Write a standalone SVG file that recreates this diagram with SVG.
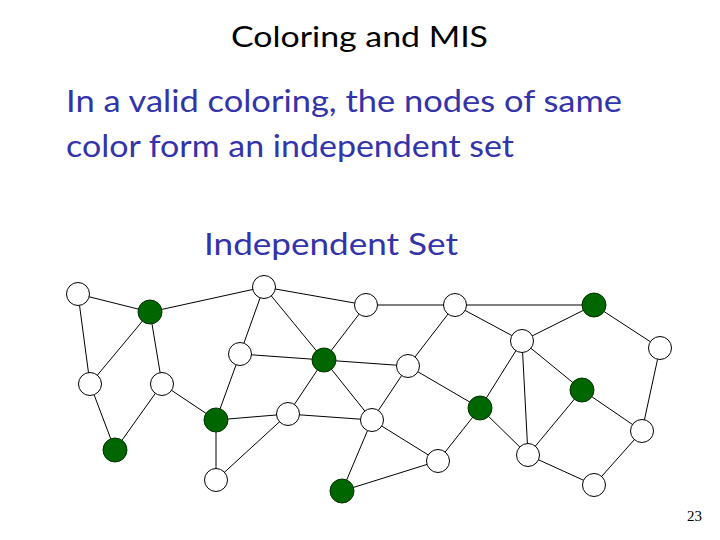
<svg xmlns="http://www.w3.org/2000/svg" width="720" height="540" viewBox="0 0 720 540">
<style>
.t{font-family:"Comic Sans MS","Lato","DejaVu Sans",sans-serif;}
.title{font-size:28px;fill:#000;}
.body{font-size:30px;fill:#3333aa;}
.e{stroke:#000;stroke-width:1;fill:none;}
.w{fill:#fff;stroke:#000;stroke-width:1;}
.g{fill:#006600;stroke:#003300;stroke-width:1;}
.pn{font-family:"Liberation Serif",serif;font-size:15px;fill:#000;}
</style>
<rect width="720" height="540" fill="#fff"/>
<text class="t title" x="231" y="47" textLength="257" lengthAdjust="spacingAndGlyphs">Coloring and MIS</text>
<text class="t body" x="66" y="112" textLength="556" lengthAdjust="spacingAndGlyphs">In a valid coloring, the nodes of same</text>
<text class="t body" x="66" y="157" textLength="448" lengthAdjust="spacingAndGlyphs">color form an independent set</text>
<text class="t body" x="204" y="255" textLength="254" lengthAdjust="spacingAndGlyphs">Independent Set</text>
<g id="connectors" class="e">
<line x1="78" y1="294" x2="150" y2="312"/>
<line x1="78" y1="294" x2="90" y2="384"/>
<line x1="150" y1="312" x2="264" y2="287"/>
<line x1="150" y1="312" x2="90" y2="384"/>
<line x1="150" y1="312" x2="162" y2="384"/>
<line x1="90" y1="384" x2="115" y2="450"/>
<line x1="162" y1="384" x2="115" y2="450"/>
<line x1="162" y1="384" x2="216" y2="420"/>
<line x1="264" y1="287" x2="240" y2="354"/>
<line x1="264" y1="287" x2="324" y2="360"/>
<line x1="264" y1="287" x2="366" y2="305"/>
<line x1="240" y1="354" x2="324" y2="360"/>
<line x1="240" y1="354" x2="216" y2="420"/>
<line x1="216" y1="420" x2="288" y2="414"/>
<line x1="216" y1="420" x2="216" y2="480"/>
<line x1="216" y1="480" x2="288" y2="414"/>
<line x1="366" y1="305" x2="324" y2="360"/>
<line x1="366" y1="305" x2="455" y2="305"/>
<line x1="324" y1="360" x2="408" y2="366"/>
<line x1="324" y1="360" x2="288" y2="414"/>
<line x1="324" y1="360" x2="372" y2="420"/>
<line x1="288" y1="414" x2="372" y2="420"/>
<line x1="408" y1="366" x2="455" y2="305"/>
<line x1="408" y1="366" x2="480" y2="408"/>
<line x1="408" y1="366" x2="372" y2="420"/>
<line x1="372" y1="420" x2="342" y2="491"/>
<line x1="372" y1="420" x2="438" y2="461"/>
<line x1="342" y1="491" x2="438" y2="461"/>
<line x1="438" y1="461" x2="480" y2="408"/>
<line x1="455" y1="305" x2="594" y2="305"/>
<line x1="455" y1="305" x2="522" y2="341"/>
<line x1="522" y1="341" x2="594" y2="305"/>
<line x1="522" y1="341" x2="480" y2="408"/>
<line x1="522" y1="341" x2="528" y2="455"/>
<line x1="522" y1="341" x2="582" y2="390"/>
<line x1="480" y1="408" x2="528" y2="455"/>
<line x1="582" y1="390" x2="528" y2="455"/>
<line x1="582" y1="390" x2="642" y2="431"/>
<line x1="594" y1="305" x2="660" y2="348"/>
<line x1="660" y1="348" x2="642" y2="431"/>
<line x1="642" y1="431" x2="594" y2="485"/>
<line x1="528" y1="455" x2="594" y2="485"/>
</g>
<g id="nA"><circle class="w" cx="78" cy="294" r="11.5"/></g>
<g id="nB"><circle class="g" cx="150" cy="312" r="12"/></g>
<g id="nC"><circle class="w" cx="264" cy="287" r="11.5"/></g>
<g id="nD"><circle class="w" cx="366" cy="305" r="11.5"/></g>
<g id="nE"><circle class="w" cx="455" cy="305" r="11.5"/></g>
<g id="nF"><circle class="g" cx="594" cy="305" r="12"/></g>
<g id="nG"><circle class="w" cx="240" cy="354" r="11.5"/></g>
<g id="nH"><circle class="g" cx="324" cy="360" r="12"/></g>
<g id="nI"><circle class="w" cx="408" cy="366" r="11.5"/></g>
<g id="nJ"><circle class="w" cx="522" cy="341" r="11.5"/></g>
<g id="nK"><circle class="w" cx="660" cy="348" r="11.5"/></g>
<g id="nL"><circle class="w" cx="90" cy="384" r="11.5"/></g>
<g id="nM"><circle class="w" cx="162" cy="384" r="11.5"/></g>
<g id="nN"><circle class="g" cx="216" cy="420" r="12"/></g>
<g id="nO"><circle class="w" cx="288" cy="414" r="11.5"/></g>
<g id="nP"><circle class="w" cx="372" cy="420" r="11.5"/></g>
<g id="nQ"><circle class="g" cx="480" cy="408" r="12"/></g>
<g id="nR"><circle class="g" cx="582" cy="390" r="12"/></g>
<g id="nS"><circle class="w" cx="642" cy="431" r="11.5"/></g>
<g id="nT"><circle class="g" cx="115" cy="450" r="12"/></g>
<g id="nU"><circle class="w" cx="216" cy="480" r="11.5"/></g>
<g id="nV"><circle class="g" cx="342" cy="491" r="12"/></g>
<g id="nW"><circle class="w" cx="438" cy="461" r="11.5"/></g>
<g id="nX"><circle class="w" cx="528" cy="455" r="11.5"/></g>
<g id="nY"><circle class="w" cx="594" cy="485" r="11.5"/></g>
<text class="pn" x="687" y="521">23</text>
</svg>
